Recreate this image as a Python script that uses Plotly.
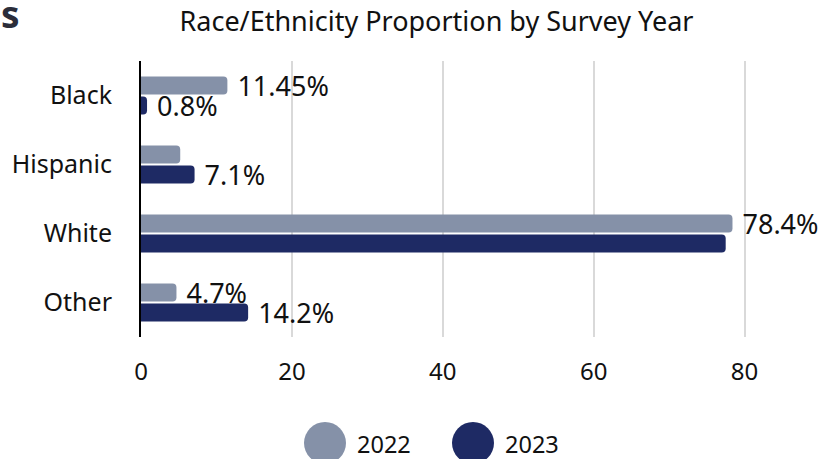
import plotly.graph_objects as go

# Race/ethnicity shares (%) by survey year
categories = ["Black", "Hispanic", "White", "Other"]
share_2022 = [11.45, 5.2, 78.4, 4.7]
share_2023 = [0.8, 7.1, 77.5, 14.2]
# which bars carry a value label
show_2022 = [True, False, True, True]
show_2023 = [True, True, False, True]
years = ["2022", "2023"]
colors = ["#8591a8", "#1e2a64"]
x_ticks = [0, 20, 40, 60, 80]

FONT = "Noto Sans"
W, H = 837, 459
M_L, M_R, M_T, M_B = 141, 17, 61, 122
PW, PH = W - M_L - M_R, H - M_T - M_B


def px_x(p):
    return (p - M_L) / PW


def px_y(p):
    return (H - M_B - p) / PH


def labels(vals, show):
    return [f" {v}%" if s else "" for v, s in zip(vals, show)]


fig = go.Figure()
for year, vals, show, col in zip(years, [share_2022, share_2023],
                                 [show_2022, show_2023], colors):
    fig.add_trace(go.Bar(
        y=categories, x=vals, name=year, orientation="h",
        marker=dict(color=col, line=dict(width=0)),
        text=labels(vals, show), textposition="outside",
        textfont=dict(family=FONT, size=27, color="#111111"),
        constraintext="none", cliponaxis=False, showlegend=False,
        hoverinfo="skip",
    ))

# legend: large round swatches with year labels
legend_x = [325, 473]
for year, col, cx in zip(years, colors, legend_x):
    fig.add_shape(type="circle", xref="paper", yref="paper",
                  xsizemode="pixel", ysizemode="pixel",
                  xanchor=px_x(cx), yanchor=px_y(443),
                  x0=-21, x1=21, y0=-21, y1=21,
                  fillcolor=col, line=dict(width=0))
    fig.add_annotation(text=year, xref="paper", yref="paper",
                       x=px_x(cx + 30), y=px_y(444), xanchor="left",
                       yanchor="middle", showarrow=False,
                       font=dict(family=FONT, size=23.5, color="#111111"))

# heading fragment at the top-left corner
fig.add_annotation(text="<b>s</b>", xref="paper", yref="paper",
                   x=px_x(0), y=px_y(14), xanchor="left", yanchor="middle",
                   showarrow=False, borderpad=0,
                   font=dict(family=FONT, size=37, color="#2b2d3a"))

fig.update_layout(
    width=W, height=H,
    margin=dict(l=M_L, r=M_R, t=M_T, b=M_B),
    paper_bgcolor="white", plot_bgcolor="white",
    barmode="group", bargap=0.42, bargroupgap=0.1,
    barcornerradius=4,
    title=dict(text="Race/Ethnicity Proportion by Survey Year",
               x=px_x(436.5), xref="paper", xanchor="center",
               y=1 - 22 / H, yanchor="middle",
               font=dict(family=FONT, size=27, color="#111111")),
    font=dict(family=FONT, color="#111111"),
    xaxis=dict(range=[0, 90], tickvals=x_ticks, showgrid=True,
               gridcolor="#d9d9d9", gridwidth=2, zeroline=False,
               showline=False, ticklabelstandoff=18,
               tickfont=dict(family=FONT, size=24, color="#111111")),
    yaxis=dict(autorange="reversed", showline=True, linecolor="#000000",
               linewidth=2, showgrid=False, ticklabelstandoff=22,
               tickfont=dict(family=FONT, size=25, color="#111111")),
)

fig.write_html("out.html")
